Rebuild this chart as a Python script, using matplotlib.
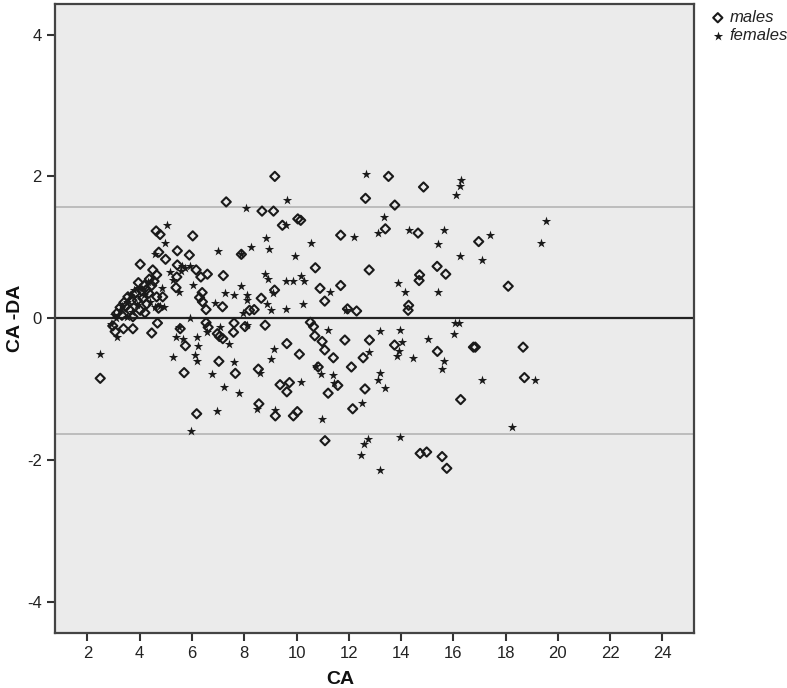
import matplotlib.pyplot as plt

plt.rcParams['font.family'] = ['Liberation Sans', 'DejaVu Sans']
plt.rcParams['axes.unicode_minus'] = False

# males (open diamonds): CA, CA - DA
males_x = [18.1, 18.67, 18.72,
           13.52, 14.86, 12.64, 13.76, 13.40, 14.65, 11.69, 16.97, 12.78, 15.38, 15.71,
           14.71, 14.69, 11.69, 14.29, 14.27, 11.95, 12.30, 11.85, 12.79, 13.75, 12.55,
           15.39, 16.77, 16.84, 12.10, 12.62, 16.28, 12.15, 14.73, 14.98, 15.57, 15.75,
           9.17, 7.31, 8.68, 9.12, 10.05, 10.16, 9.46, 6.03, 7.89, 5.90, 10.72, 6.16,
           6.34, 6.59, 7.20, 10.90, 6.39, 9.16, 6.29, 6.40, 6.54, 7.17, 8.65, 8.20,
           8.38, 11.08, 5.55, 6.54, 6.62, 7.61, 7.59, 8.03, 8.80, 10.53, 10.65, 10.70,
           10.98, 11.08, 11.41, 9.63, 10.11, 6.97, 7.05, 7.18, 5.75, 7.03, 7.66, 5.70,
           8.54, 10.83, 11.58, 9.37, 9.73, 9.63, 11.21, 8.56, 9.19, 9.88, 10.03, 6.18,
           11.09,
           4.63, 4.78, 4.02, 5.44, 4.73, 4.99, 5.44, 5.42, 5.39, 4.50, 4.65, 4.37,
           4.17, 4.46, 4.08, 4.35, 4.65, 4.88, 3.70, 3.91, 4.12, 4.27, 3.25, 3.46,
           3.63, 4.72, 4.02, 4.20, 3.12, 3.32, 3.74, 2.97, 3.06, 3.38, 3.74, 4.46,
           4.68, 2.49, 3.55, 3.85, 4.25, 4.55, 3.95, 3.40]
males_y = [0.45, -0.41, -0.84,
           2.00, 1.85, 1.69, 1.595, 1.26, 1.20, 1.17, 1.08, 0.68, 0.73, 0.62,
           0.61, 0.53, 0.46, 0.18, 0.11, 0.13, 0.10, -0.31, -0.31, -0.38, -0.56,
           -0.47, -0.41, -0.41, -0.69, -1.00, -1.15, -1.28, -1.91, -1.89, -1.955, -2.12,
           2.00, 1.64, 1.51, 1.51, 1.40, 1.38, 1.31, 1.16, 0.90, 0.89, 0.71, 0.68,
           0.58, 0.62, 0.60, 0.42, 0.36, 0.395, 0.29, 0.23, 0.12, 0.16, 0.28, 0.11,
           0.12, 0.24, -0.15, -0.065, -0.13, -0.07, -0.20, -0.12, -0.10, -0.06, -0.12, -0.25,
           -0.33, -0.45, -0.56, -0.36, -0.51, -0.22, -0.26, -0.29, -0.39, -0.61, -0.78, -0.77,
           -0.72, -0.69, -0.95, -0.94, -0.91, -1.04, -1.06, -1.21, -1.38, -1.38, -1.32, -1.35,
           -1.73,
           1.23, 1.18, 0.76, 0.95, 0.93, 0.83, 0.75, 0.58, 0.43, 0.68, 0.61, 0.55,
           0.46, 0.46, 0.385, 0.35, 0.30, 0.30, 0.25, 0.25, 0.28, 0.20, 0.15, 0.16,
           0.11, 0.14, 0.11, 0.075, 0.065, 0.04, 0.02, -0.11, -0.19, -0.15, -0.15, -0.21,
           -0.07, -0.85, 0.30, 0.36, 0.40, 0.52, 0.50, 0.22]

# females (stars)
females_x = [19.56, 19.37, 19.14, 18.25,
             12.64, 16.31, 16.26, 16.10, 13.33, 13.11, 14.29, 15.65, 12.20, 15.43,
             17.39, 16.24, 17.10, 13.87, 14.17, 15.43, 11.91, 16.07, 16.21, 16.04,
             13.21, 13.95, 14.04, 13.92, 13.86, 12.76, 14.45, 15.05, 15.66, 15.56,
             13.21, 13.10, 13.40, 17.10, 12.52, 12.75, 12.60, 12.45, 13.95, 13.18,
             9.63, 8.05, 9.58, 8.82, 10.55, 8.26, 8.93, 6.99, 7.89, 9.93, 5.62, 5.72,
             5.93, 8.79, 8.91, 9.59, 9.88, 10.16, 10.28, 6.03, 7.88, 11.27, 7.26, 7.59,
             8.12, 9.09, 6.89, 8.10, 8.89, 9.01, 7.94, 9.58, 10.26, 5.93, 7.06, 8.12,
             11.21, 6.57, 6.21, 7.43, 5.67, 6.22, 6.13, 6.18, 9.14, 9.01, 7.59, 6.78,
             8.61, 10.75, 10.93, 11.41, 11.44, 10.16, 7.24, 7.79, 8.50, 9.17, 6.95, 10.98,
             5.97,
             5.04, 4.96, 4.60, 5.16, 5.57, 5.29, 5.52, 4.30, 3.99, 3.79, 3.63, 3.51,
             3.32, 3.23, 4.40, 4.59, 4.78, 4.93, 3.89, 3.00, 3.10, 3.51, 2.89, 3.12,
             2.49, 5.39, 5.29, 5.52, 4.15, 3.70, 4.85]
females_y = [1.37, 1.06, -0.88, -1.53,
             2.04, 1.95, 1.87, 1.74, 1.42, 1.195, 1.25, 1.25, 1.14, 1.05,
             1.17, 0.88, 0.82, 0.49, 0.37, 0.37, 0.11, -0.07, -0.065, -0.22,
             -0.18, -0.17, -0.34, -0.47, -0.53, -0.48, -0.57, -0.29, -0.61, -0.72,
             -0.77, -0.87, -0.98, -0.87, -1.20, -1.70, -1.78, -1.93, -1.68, -2.14,
             1.67, 1.55, 1.31, 1.13, 1.06, 1.01, 0.98, 0.945, 0.90, 0.88, 0.74, 0.70,
             0.73, 0.62, 0.55, 0.53, 0.53, 0.59, 0.53, 0.466, 0.45, 0.37, 0.36, 0.33,
             0.32, 0.35, 0.22, 0.25, 0.20, 0.11, 0.066, 0.127, 0.20, 0.0, -0.13, -0.10,
             -0.17, -0.19, -0.27, -0.36, -0.29, -0.39, -0.52, -0.60, -0.43, -0.58, -0.62, -0.79,
             -0.77, -0.68, -0.79, -0.80, -0.92, -0.90, -0.97, -1.06, -1.29, -1.30, -1.31, -1.42,
             -1.59,
             1.31, 1.06, 0.91, 0.65, 0.67, 0.54, 0.37, 0.51, 0.43, 0.39, 0.32, 0.23,
             0.17, 0.11, 0.23, 0.16, 0.17, 0.15, 0.18, 0.04, -0.005, 0.02, -0.085, -0.26,
             -0.51, -0.26, -0.55, -0.13, 0.33, 0.08, 0.42]

mean_line = 0
upper_loa = 1.57
lower_loa = -1.64

fig = plt.figure(figsize=(7.87, 6.88), dpi=100)
ax = fig.add_axes([0.0699, 0.0804, 0.8123, 0.9145])
ax.set_facecolor('#ebebeb')

ax.axhline(upper_loa, color='#b4b4b4', lw=1.2, zorder=1)
ax.axhline(lower_loa, color='#b4b4b4', lw=1.2, zorder=1)
ax.axhline(mean_line, color='#222222', lw=1.6, zorder=1)

ax.scatter(males_x, males_y, marker='D', s=22, facecolors='none',
           edgecolors='#1a1a1a', linewidths=1.5, label='males', zorder=3)
ax.scatter(females_x, females_y, marker='*', s=50, color='#1a1a1a',
           linewidths=0, label='females', zorder=3)

ax.set_xlim(0.76, 25.22)
ax.set_ylim(-4.44, 4.44)
ax.set_xticks(range(2, 25, 2))
ax.set_yticks([-4, -2, 0, 2, 4])
ax.tick_params(direction='out', length=6, width=1.5, color='#333333',
               labelsize=12, labelcolor='#222222')
for sp in ax.spines.values():
    sp.set_color('#444444')
    sp.set_linewidth(1.6)

fig.text(340 / 787, 1 - 680 / 688, 'CA', fontsize=14, fontweight='bold',
         ha='center', va='center', color='#111111')
fig.text(16 / 787, 1 - 318 / 688, 'CA -DA', fontsize=14, fontweight='bold',
         rotation=90, ha='center', va='center', color='#111111')

leg = fig.legend(loc='upper left', bbox_to_anchor=(0.893, 0.995), frameon=False,
                 handletextpad=0.2, labelspacing=0.2, borderaxespad=0,
                 handlelength=1.0, prop={'style': 'italic', 'size': 12})
for t in leg.get_texts():
    t.set_color('#222222')

fig.savefig('out.png', dpi=100)
